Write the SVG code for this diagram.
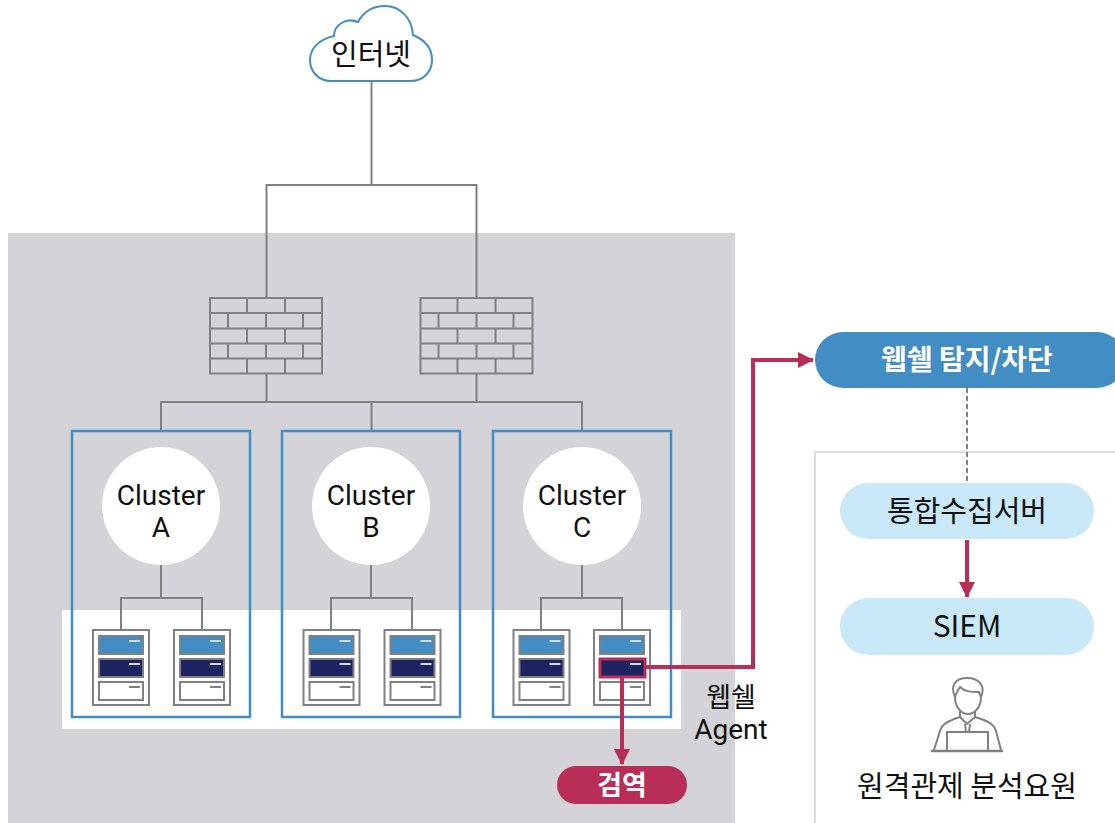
<svg xmlns="http://www.w3.org/2000/svg" width="1115" height="823" viewBox="0 0 1115 823">
<style>
text{font-family:"Noto Sans CJK KR","Noto Sans",sans-serif;text-anchor:middle;fill:#111}
.g{fill:none;stroke:#808080;stroke-width:2}
.r{fill:none;stroke:#b82e57;stroke-width:4}
.c{fill:none;stroke:#428dc3;stroke-width:2.5}
text.t{font-family:Roboto,"Noto Sans",sans-serif;font-size:28px}
.w{fill:#fff;font-weight:700}
</style>
<defs>
<marker id="a" markerUnits="userSpaceOnUse" markerWidth="17" markerHeight="17" refX="15" refY="8" orient="auto"><path d="M0 0L16 8L0 16Z" fill="#b82e57"/></marker>
<g id="fw">
<rect x="210" y="298" width="112" height="75.500" class="g"/>
<path class="g" d="M210 313H322M210 328.500H322M210 343.500H322M210 358.500H322M247 298V313M285 298V313M228 313V328.500M266 313V328.500M303 313V328.500M247 328.500V343.500M285 328.500V343.500M228 343.500V358.500M266 343.500V358.500M303 343.500V358.500M247 358.500V373.500M285 358.500V373.500"/>
</g>
<g id="sv">
<rect x="0" y="0" width="56" height="75" fill="#fff" stroke="#808080" stroke-width="2"/>
<rect x="6" y="6" width="44" height="18" fill="#428dc3" stroke="#808080" stroke-width="2"/>
<rect x="6" y="29" width="44" height="18" fill="#1d2260" stroke="#808080" stroke-width="2"/>
<rect x="6" y="52" width="44" height="18" fill="#fff" stroke="#808080" stroke-width="2"/>
<path d="M36 11H47M36 34H47" stroke="#d8d8e0" stroke-width="2"/>
<path d="M36 57H47" stroke="#808080" stroke-width="2"/>
</g>
</defs>
<rect id="zone" x="8" y="233" width="727" height="590" fill="#d3d3d8"/>
<rect id="band" x="62" y="610" width="619" height="119" fill="#fff"/>
<path id="panel" d="M815 823V452H1115" fill="none" stroke="#ddd" stroke-width="2"/>
<g id="connectors">
<path class="g" d="M371.500 80V185M266.500 298V185H476.500V298M266.500 374V402M476.500 374V402M161 431V402H582V431M371.500 402V431"/>
<path class="g" d="M161 565V598M121 630V598H202V630M371 565V598M331 630V598H412V630M582 565V598M541 630V598H622V630"/>
<path d="M967 388V483" fill="none" stroke="#808080" stroke-width="2" stroke-dasharray="5 3"/>
</g>
<g id="cluster-a"><rect x="72" y="431" width="178" height="286" class="c"/><circle cx="161" cy="506" r="59" fill="#fff"/><text class="t" x="161" y="505">Cluster</text><text class="t" x="161" y="537">A</text></g>
<g id="cluster-b"><rect x="282" y="431" width="178" height="286" class="c"/><circle cx="371" cy="506" r="59" fill="#fff"/><text class="t" x="371" y="505">Cluster</text><text class="t" x="371" y="537">B</text></g>
<g id="cluster-c"><rect x="493" y="431" width="178" height="286" class="c"/><circle cx="582" cy="506" r="59" fill="#fff"/><text class="t" x="582" y="505">Cluster</text><text class="t" x="582" y="537">C</text></g>
<g id="firewall-1"><use href="#fw"/></g>
<g id="firewall-2"><use href="#fw" x="210.500"/></g>
<g id="servers-a"><use href="#sv" x="93" y="630"/><use href="#sv" x="174" y="630"/></g>
<g id="servers-b"><use href="#sv" x="303.500" y="630"/><use href="#sv" x="384.500" y="630"/></g>
<g id="servers-c"><use href="#sv" x="513.500" y="630"/><use href="#sv" x="594" y="630"/></g>
<g id="internet">
<path d="M331 81C317 81 310 70 310 60C310 48 320 39 334 36C334 25 346 17 358 22C364 11 374 6 385 6C400 6 412 18 413 35C425 40 432 49 432 60C432 72 423 81 411 81Z" fill="#fff" stroke="#428dc3" stroke-width="2"/>
<text x="371" y="65" font-size="29">인터넷</text>
</g>
<g id="agent-path">
<rect x="600" y="659" width="45" height="18" fill="#1d2260" stroke="#b82e57" stroke-width="3"/>
<path d="M630 664H641" stroke="#d8d8e0" stroke-width="2"/>
<path class="r" d="M646 667H753V360H813" marker-end="url(#a)"/>
<path class="r" d="M622 677V764" marker-end="url(#a)"/>
<path class="r" d="M967 540V597" marker-end="url(#a)"/>
</g>
<g id="webshell-agent"><text x="731" y="707" font-size="27">웹쉘</text><text class="t" x="731" y="739">Agent</text></g>
<g id="search"><rect x="557" y="766" width="130" height="38" rx="19" fill="#b82e57"/><text class="w" x="622" y="795" font-size="27">검역</text></g>
<g id="detect"><rect x="815" y="332" width="310" height="56" rx="28" fill="#428dc3"/><text class="w" x="967" y="370" font-size="28">웹쉘 탐지/차단</text></g>
<g id="collector"><rect x="840" y="483" width="254" height="56" rx="28" fill="#c9e8f8"/><text x="967" y="522" font-size="29">통합수집서버</text></g>
<g id="siem"><rect x="840" y="598" width="254" height="57" rx="28" fill="#c9e8f8"/><text x="967" y="637" font-size="30">SIEM</text></g>
<g id="analyst" fill="none" stroke="#808080" stroke-width="2">
<path d="M955 697C950 686 955 678 967 678C979 678 986 686 981 697L979 692C972 692 965 692 960 687C958 690 956 693 955 697Z"/>
<path d="M955 697C955 708 962 714 968 714C974 714 981 708 981 697"/>
<path d="M960 711V717L967 724L975 717V711M960 717C948 721 942 724 940 731L934 750M975 717C988 721 994 724 996 731L1001 750M965 724L966 732M970 724L969 732"/>
<path d="M947 750V732H988V750"/>
<path d="M931 751H1003" stroke-width="2.500"/>
</g>
<g id="analyst-label"><text x="967" y="797" font-size="29">원격관제 분석요원</text></g>
</svg>
